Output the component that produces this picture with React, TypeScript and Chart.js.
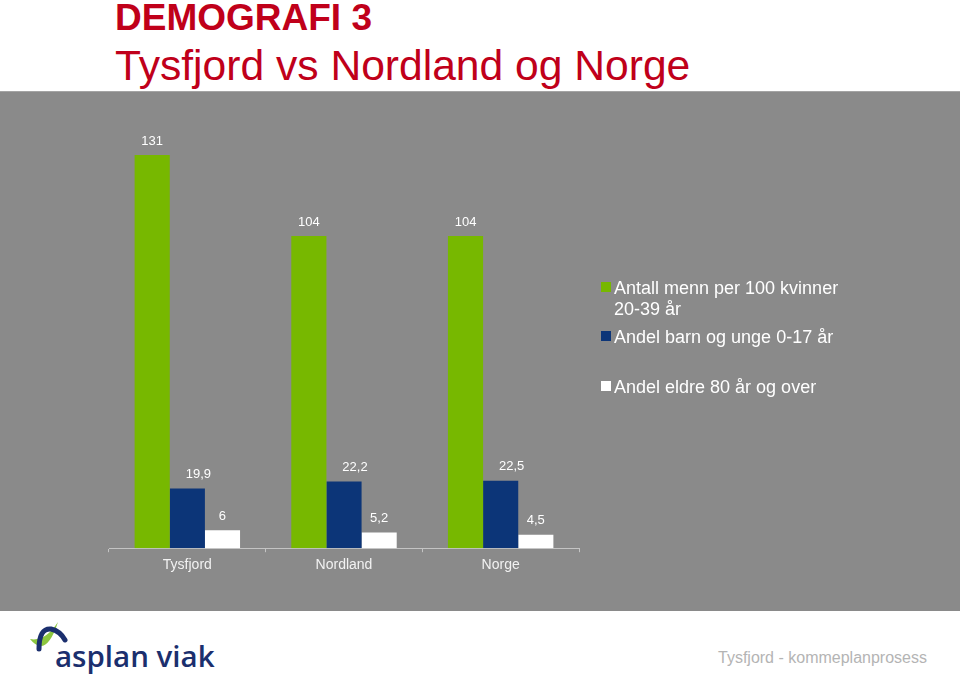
import React, { useEffect, useRef } from "react";
import { Chart, registerables } from "chart.js";

Chart.register(...registerables);

// ---- Data ----
const categories = ["Tysfjord", "Nordland", "Norge"];
const seriesNames = [
  "Antall menn per 100 kvinner 20-39 år",
  "Andel barn og unge 0-17 år",
  "Andel eldre 80 år og over",
];
const mennPer100Kvinner = [131, 104, 104];
const andelBarnUnge = [19.9, 22.2, 22.5];
const andelEldre = [6, 5.2, 4.5];
const yMin = 0;
const yMax = 140;

// ---- Styles ----
const seriesColors = ["#77b800", "#0c3578", "#ffffff"];
const labelDx = [0, 11, 0];
const legendTops = [191, 240, 290];
const FONT = '"Liberation Sans", Arial, Helvetica, sans-serif';

const fmt = (v: number) => String(v).replace(".", ",");

function wrapText(ctx: CanvasRenderingContext2D, text: string, maxW: number): string[] {
  const words = text.split(" ");
  const lines: string[] = [];
  let cur = "";
  for (const w of words) {
    const test = cur ? cur + " " + w : w;
    if (ctx.measureText(test).width > maxW && cur) {
      lines.push(cur);
      cur = w;
    } else cur = test;
  }
  if (cur) lines.push(cur);
  return lines;
}

const valueLabelPlugin = {
  id: "valueLabels",
  afterDatasetsDraw(chart: any) {
    const ctx = chart.ctx as CanvasRenderingContext2D;
    ctx.save();
    ctx.font = `13px ${FONT}`;
    ctx.fillStyle = "#ffffff";
    ctx.textAlign = "center";
    ctx.textBaseline = "middle";
    chart.data.datasets.forEach((ds: any, i: number) => {
      const meta = chart.getDatasetMeta(i);
      meta.data.forEach((el: any, j: number) => {
        ctx.fillText(fmt(ds.data[j]), el.x + labelDx[i], el.y - 14);
      });
    });
    ctx.restore();
  },
};

const legendPlugin = {
  id: "sideLegend",
  afterDraw(chart: any) {
    const ctx = chart.ctx as CanvasRenderingContext2D;
    const ca = chart.chartArea;
    const x0 = ca.right + 22;
    ctx.save();
    ctx.font = `18px ${FONT}`;
    ctx.textAlign = "left";
    ctx.textBaseline = "alphabetic";
    chart.data.datasets.forEach((ds: any, i: number) => {
      const top = legendTops[i];
      ctx.fillStyle = ds.backgroundColor;
      ctx.fillRect(x0, top, 10, 10);
      ctx.fillStyle = "#ffffff";
      const lines = wrapText(ctx, ds.label, 240);
      lines.forEach((ln, k) => ctx.fillText(ln, x0 + 13, top + 12 + k * 21));
    });
    ctx.restore();
  },
};

function BarChart() {
  const ref = useRef<HTMLCanvasElement | null>(null);
  useEffect(() => {
    if (!ref.current) return;
    const chart = new Chart(ref.current, {
      type: "bar",
      data: {
        labels: categories,
        datasets: [
          { label: seriesNames[0], data: mennPer100Kvinner, backgroundColor: seriesColors[0] },
          { label: seriesNames[1], data: andelBarnUnge, backgroundColor: seriesColors[1] },
          { label: seriesNames[2], data: andelEldre, backgroundColor: seriesColors[2] },
        ],
      },
      options: {
        animation: false,
        responsive: false,
        maintainAspectRatio: false,
        layout: { padding: { left: 109, right: 381, top: 37, bottom: 32 } },
        datasets: {
          bar: { categoryPercentage: 0.673, barPercentage: 1, borderWidth: 0 },
        },
        plugins: {
          legend: { display: false },
          tooltip: { enabled: false },
          title: { display: false },
        },
        scales: {
          x: {
            grid: {
              display: true,
              drawOnChartArea: false,
              drawTicks: true,
              tickLength: 4,
              color: "#c4c4c4",
              offset: true,
            },
            border: { display: true, color: "#c4c4c4", width: 1 },
            ticks: { color: "#f2f2f2", font: { family: FONT, size: 14 }, padding: 5 },
          },
          y: { display: false, min: yMin, max: yMax },
        },
      },
      plugins: [valueLabelPlugin, legendPlugin],
    } as any);
    return () => chart.destroy();
  }, []);
  return <canvas ref={ref} width={960} height={520} style={{ display: "block", width: 960, height: 520 }} />;
}

export default function App() {
  return (
    <div
      style={{
        position: "fixed",
        left: 0,
        top: 0,
        width: 960,
        height: 682,
        background: "#ffffff",
        overflow: "hidden",
        fontFamily: FONT,
      }}
    >
      <div
        style={{
          position: "absolute",
          left: 115,
          top: -1,
          fontSize: 37,
          lineHeight: "37px",
          fontWeight: 700,
          color: "#c0001a",
          whiteSpace: "nowrap",
        }}
      >
        DEMOGRAFI 3
      </div>
      <div
        style={{
          position: "absolute",
          left: 115,
          top: 44,
          fontSize: 42.6,
          lineHeight: "42px",
          color: "#c0001a",
          whiteSpace: "nowrap",
        }}
      >
        Tysfjord vs Nordland og Norge
      </div>
      <div
        style={{
          position: "absolute",
          left: 0,
          top: 91,
          width: 960,
          height: 520,
          background: "#8a8a8a",
          borderTop: "1px solid #a4a4a4",
          boxSizing: "border-box",
        }}
      />
      <div style={{ position: "absolute", left: 0, top: 91, width: 960, height: 520 }}>
        <BarChart />
      </div>
      <svg
        style={{ position: "absolute", left: 0, top: 611 }}
        width={240}
        height={71}
        viewBox="0 0 240 71"
      >
        <path d="M 30 28 Q 46 48 58 11 Q 45 31 30 28 Z" fill="#8cc63f" />
        <path
          d="M 39 38 Q 39 17 51 18 Q 60 20 65 29"
          fill="none"
          stroke="#1b2f6e"
          strokeWidth={5}
          strokeLinecap="round"
        />
      </svg>
      <div
        style={{
          position: "absolute",
          left: 55,
          top: 641,
          fontSize: 29.5,
          lineHeight: "30px",
          fontWeight: 600,
          fontFamily: '"Open Sans", sans-serif',
          color: "#1b2f6e",
          whiteSpace: "nowrap",
        }}
      >
        asplan viak
      </div>
      <div
        style={{
          position: "absolute",
          left: 718,
          top: 650,
          fontSize: 16,
          lineHeight: "16px",
          color: "#b4b4b4",
          whiteSpace: "nowrap",
        }}
      >
        Tysfjord - kommeplanprosess
      </div>
    </div>
  );
}
